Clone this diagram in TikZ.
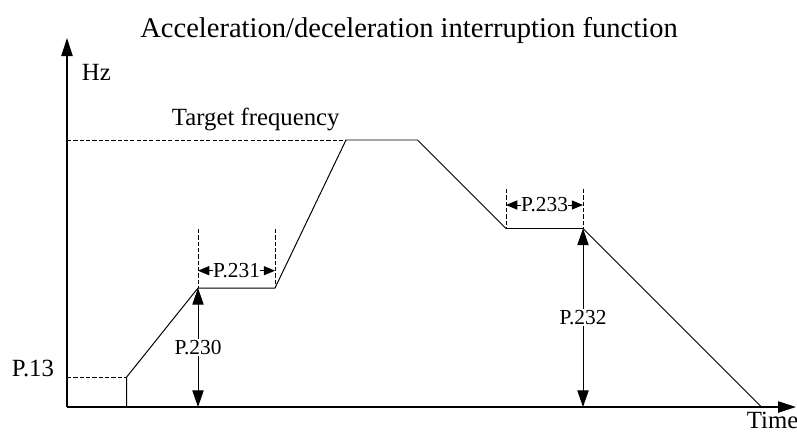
\documentclass[tikz,border=0pt]{standalone}
\usepackage{fontspec}
\setmainfont{Liberation Serif}
\usetikzlibrary{arrows.meta}

\begin{document}
\begin{tikzpicture}[x=0.025cm,y=-0.025cm,
  ax/.style={line width=1pt,-{Triangle[length=12.8pt,width=8pt]}},
  ln/.style={line width=0.7pt},
  dsh/.style={line width=0.6pt,dash pattern=on 3pt off 1.5pt},
  dimv/.style={line width=0.7pt,{Triangle[length=11.8pt,width=8pt]}-{Triangle[length=11.8pt,width=8pt]}},
  dimh/.style={line width=0.7pt,{Triangle[length=8pt,width=6.5pt]}-{Triangle[length=8pt,width=6.5pt]}},
  big/.style={font=\fontsize{17.6}{20}\selectfont,inner sep=0pt},
  sml/.style={font=\fontsize{15.2}{18}\selectfont,inner sep=1pt,fill=white}]
\useasboundingbox (0,0) rectangle (797,443);
% axes
\coordinate (o) at (67,407);
\coordinate (ytop) at (67,38);
\coordinate (xend) at (796,407);
\draw[ax] (o) -- (ytop);
\draw[ax] (o) -- (xend);
% frequency profile
\coordinate (s0) at (126.7,407);
\coordinate (s1) at (126.7,377);
\coordinate (s2) at (198,288);
\coordinate (s3) at (275,288);
\coordinate (s4) at (346,140);
\coordinate (s5) at (417.5,140);
\coordinate (s6) at (506,228.5);
\coordinate (s7) at (583,228.5);
\coordinate (s8) at (761.5,407);
\draw[ln] (s0)--(s1)--(s2)--(s3)--(s4)--(s5)--(s6)--(s7)--(s8);
% guide lines
\coordinate (p13) at (67,377);
\coordinate (ptg) at (67,140);
\coordinate (g2) at (198,229);
\coordinate (g3) at (275,229);
\coordinate (g6) at (506,189);
\coordinate (g7) at (583,189);
\draw[dsh] (p13) -- (s1);
\draw[dsh] (ptg) -- (s4);
\draw[dsh] (g2) -- (s2); \draw[dsh] (g3) -- (s3);
\draw[dsh] (g6) -- (s6); \draw[dsh] (g7) -- (s7);
% dimensions
\coordinate (b2) at (198,407);
\coordinate (b7) at (583,407);
\coordinate (h2) at (198,270.7);
\coordinate (h3) at (275,270.7);
\coordinate (h6) at (506,205);
\coordinate (h7) at (583,205);
\draw[dimv] (s2) -- (b2) node[sml,midway] (l230) {P.230};
\draw[dimv] (s7) -- (b7) node[sml,midway] (l232) {P.232};
\draw[dimh] (h2) -- (h3) node[sml,midway,inner sep=0pt] (l231) {P.231};
\draw[dimh] (h6) -- (h7) node[sml,midway,inner sep=0pt] (l233) {P.233};
% texts
\node[big,font=\fontsize{20.3}{24}\selectfont,anchor=base] (title) at (409,37) {Acceleration/deceleration interruption function};
\node[big,anchor=base west] (hz) at (81.7,80) {Hz};
\node[big,anchor=base west] (target) at (171.7,125) {Target frequency};
\node[big,anchor=base west] (l13) at (11.7,376) {P.13};
\node[big,anchor=base west] (time) at (746.7,428.3) {Time};
\end{tikzpicture}
\end{document}
